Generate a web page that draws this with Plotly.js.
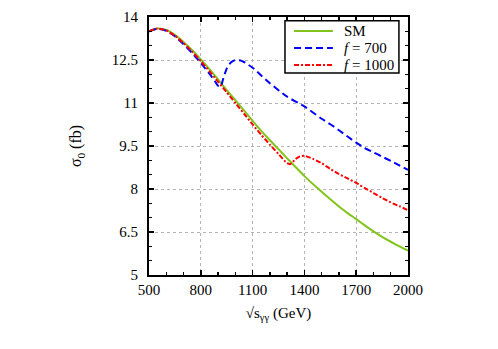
<!DOCTYPE html>
<html>
<head>
<meta charset="utf-8">
<script src="https://cdn.plot.ly/plotly-3.0.1.min.js"></script>
<style>
  body { margin: 0; background: #fff; }
  #graph { width: 498px; height: 349px; }
</style>
</head>
<body>
<div id="graph"></div>
<script>
// energía (GeV) y sección eficaz (fb)
const smX = [500, 550, 600, 650, 700, 750, 800, 850, 900, 950, 1000, 1050, 1100, 1150, 1200, 1250, 1300, 1350, 1400, 1450, 1500, 1550, 1600, 1650, 1700, 1750, 1800, 1850, 1900, 1950, 2000];
const smY = [13.50, 13.60, 13.55, 13.38, 13.13, 12.84, 12.52, 12.18, 11.82, 11.45, 11.10, 10.74, 10.38, 10.03, 9.70, 9.39, 9.07, 8.76, 8.45, 8.17, 7.90, 7.64, 7.39, 7.16, 6.95, 6.73, 6.52, 6.33, 6.16, 6.00, 5.85];

const f700X = [500, 550, 600, 650, 700, 750, 800, 850, 880, 900, 915, 930, 950, 975, 1000, 1025, 1050, 1100, 1150, 1200, 1300, 1400, 1500, 1550, 1600, 1650, 1700, 1750, 1800, 1850, 1900, 1950, 2000];
const f700Y = [13.50, 13.59, 13.52, 13.33, 13.05, 12.74, 12.40, 12.02, 11.78, 11.60, 11.57, 11.85, 12.20, 12.42, 12.50, 12.49, 12.43, 12.23, 11.96, 11.69, 11.22, 10.88, 10.45, 10.26, 10.05, 9.83, 9.62, 9.43, 9.28, 9.13, 8.98, 8.82, 8.67];

const f1000X = [500, 550, 600, 650, 700, 750, 800, 850, 900, 950, 1000, 1050, 1100, 1150, 1200, 1250, 1300, 1320, 1350, 1375, 1400, 1450, 1500, 1550, 1600, 1650, 1700, 1750, 1800, 1850, 1900, 1950, 2000];
const f1000Y = [13.50, 13.60, 13.53, 13.35, 13.09, 12.79, 12.46, 12.11, 11.74, 11.37, 11.00, 10.63, 10.25, 9.89, 9.55, 9.22, 8.90, 8.87, 9.05, 9.14, 9.16, 9.05, 8.90, 8.70, 8.52, 8.37, 8.21, 8.03, 7.86, 7.69, 7.53, 7.40, 7.26];

const xTicks = [500, 800, 1100, 1400, 1700, 2000];
const yTicks = [5, 6.5, 8, 9.5, 11, 12.5, 14];

// leyenda: nombres, colores y estilos de línea
const names = ["SM", "<i>f</i> = 700", "<i>f</i> = 1000"];
const colors = ["#80c41c", "#0000ff", "#ff0000"];
const dashes = ["solid", "7px,4px", "5px,2px,2px,2px"];

const serif = '"Liberation Serif", "Times New Roman", serif';

const series = [[smX, smY], [f700X, f700Y], [f1000X, f1000Y]];
const data = series.map(([x, y], i) => ({
  x, y,
  mode: "lines", type: "scatter", name: names[i], showlegend: false,
  line: { color: colors[i], width: 2, dash: dashes[i], shape: "spline", smoothing: 0.6 }
}));

// caja de leyenda dibujada a mano (posiciones en coordenadas de papel)
const legX0 = 0.525, legX1 = 0.965, legY0 = 0.783, legY1 = 0.985;
const rowY = [0.946, 0.880, 0.814];
const shapes = [{
  type: "rect", xref: "paper", yref: "paper",
  x0: legX0, x1: legX1, y0: legY0, y1: legY1,
  fillcolor: "#fff", line: { color: "#000", width: 1.5 }, layer: "above"
}];
const annotations = [];
names.forEach((n, i) => {
  shapes.push({
    type: "line", xref: "paper", yref: "paper",
    x0: 0.56, x1: 0.71, y0: rowY[i], y1: rowY[i],
    line: { color: colors[i], width: 2, dash: dashes[i] }, layer: "above"
  });
  annotations.push({
    xref: "paper", yref: "paper", x: 0.75, y: rowY[i],
    xanchor: "left", yanchor: "middle", showarrow: false, borderpad: 0,
    text: n, font: { family: serif, size: 15, color: "#000" }
  });
});

const axisBase = {
  showline: true, linecolor: "#000", linewidth: 2, mirror: "allticks",
  ticks: "inside", ticklen: 5, tickwidth: 1.5, tickcolor: "#000",
  showgrid: true, gridcolor: "#b4b4b4", gridwidth: 1, griddash: "dot",
  zeroline: false,
  tickfont: { family: serif, size: 15, color: "#000" }
};

const layout = {
  width: 498, height: 349,
  margin: { l: 149, r: 90, t: 17, b: 74 },
  paper_bgcolor: "#fff", plot_bgcolor: "#fff",
  font: { family: serif, size: 15, color: "#000" },
  showlegend: false,
  shapes, annotations,
  xaxis: Object.assign({}, axisBase, {
    range: [500, 2000], tickvals: xTicks, ticktext: xTicks.map(String),
    ticklabelstandoff: 0,
    minor: { dtick: 100, tick0: 500, ticks: "inside", ticklen: 3, tickcolor: "#000", tickwidth: 1.5, showgrid: false },
    title: { text: "√s<sub>γγ</sub> (GeV)", font: { family: serif, size: 15 }, standoff: 10 }
  }),
  yaxis: Object.assign({}, axisBase, {
    range: [5, 14], tickvals: yTicks, ticktext: yTicks.map(String),
    ticklabelstandoff: 6,
    minor: { dtick: 0.5, tick0: 5, ticks: "inside", ticklen: 3, tickcolor: "#000", tickwidth: 1.5, showgrid: false },
    title: { text: "σ<sub>0</sub> (fb)", font: { family: serif, size: 16 }, standoff: 26 }
  })
};

Plotly.newPlot("graph", data, layout, { staticPlot: true });
</script>
</body>
</html>
